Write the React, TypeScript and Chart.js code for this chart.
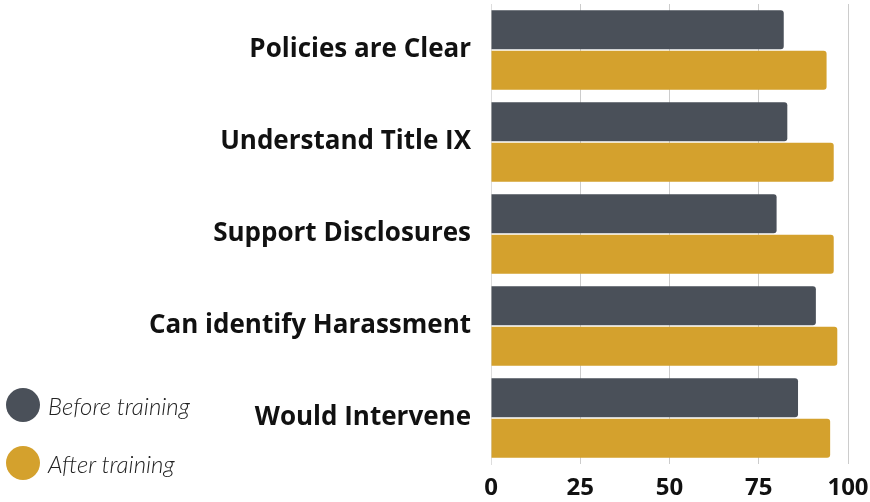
import React, { useEffect, useRef } from "react";
import { Chart, registerables } from "chart.js";

Chart.register(...registerables);

const categories = [
  "Policies are Clear",
  "Understand Title IX",
  "Support Disclosures",
  "Can identify Harassment",
  "Would Intervene",
];
const beforeValues = [82, 83, 80, 91, 86];
const afterValues = [94, 96, 96, 97, 95];
const seriesNames = ["Before training", "After training"];
const seriesColors = ["#4a5059", "#d4a12d"];
const xTicks = [0, 25, 50, 75, 100];

export default function App() {
  const ref = useRef<HTMLCanvasElement | null>(null);

  useEffect(() => {
    if (!ref.current) return;
    const chart = new Chart(ref.current, {
      type: "bar",
      data: {
        labels: categories,
        datasets: [
          {
            label: seriesNames[0],
            data: beforeValues,
            backgroundColor: seriesColors[0],
            borderRadius: 3,
            categoryPercentage: 0.88,
            barPercentage: 0.96,
          },
          {
            label: seriesNames[1],
            data: afterValues,
            backgroundColor: seriesColors[1],
            borderRadius: 3,
            categoryPercentage: 0.88,
            barPercentage: 0.96,
          },
        ],
      },
      options: {
        indexAxis: "y",
        responsive: false,
        animation: false,
        devicePixelRatio: 1,
        layout: { padding: { top: 4, right: 22, bottom: 0, left: 0 } },
        plugins: { legend: { display: false }, tooltip: { enabled: false } },
        scales: {
          x: {
            min: xTicks[0],
            max: xTicks[xTicks.length - 1],
            afterBuildTicks: (s: any) => {
              s.ticks = xTicks.map((v) => ({ value: v }));
            },
            afterFit: (s: any) => {
              s.paddingLeft = 0;
              s.paddingRight = 0;
              s.height = 38;
            },
            grid: { color: "#cccccc", drawTicks: false },
            border: { display: false },
            ticks: {
              padding: 10,
              color: "#111111",
              font: { family: "'Open Sans'", size: 24, weight: "bold" },
            },
          },
          y: {
            afterFit: (s: any) => {
              s.width = 491;
              s.paddingTop = 0;
              s.paddingBottom = 0;
            },
            grid: { display: false, tickLength: 20 },
            border: { display: true, color: "#dddddd" },
            ticks: {
              padding: 0,
              color: "#111111",
              font: { family: "'Open Sans'", size: 26, weight: "bold" },
            },
          },
        },
      },
    });
    return () => chart.destroy();
  }, []);

  const legendTops = [405, 463];

  return (
    <div style={{ position: "absolute", left: 0, top: 0, width: 870, height: 502, background: "#fff" }}>
      <canvas ref={ref} width={870} height={502} style={{ width: 870, height: 502, display: "block" }} />
      {seriesNames.map((name, i) => (
        <div
          key={name}
          style={{
            position: "absolute",
            left: 6,
            top: legendTops[i] - 17,
            height: 34,
            display: "flex",
            alignItems: "center",
          }}
        >
          <div style={{ width: 34, height: 34, borderRadius: "50%", background: seriesColors[i] }} />
          <span
            style={{
              marginLeft: 8,
              fontFamily: "Lato, sans-serif",
              fontStyle: "italic",
              fontWeight: 300,
              fontSize: 24,
              color: "#222",
            }}
          >
            {name}
          </span>
        </div>
      ))}
    </div>
  );
}
